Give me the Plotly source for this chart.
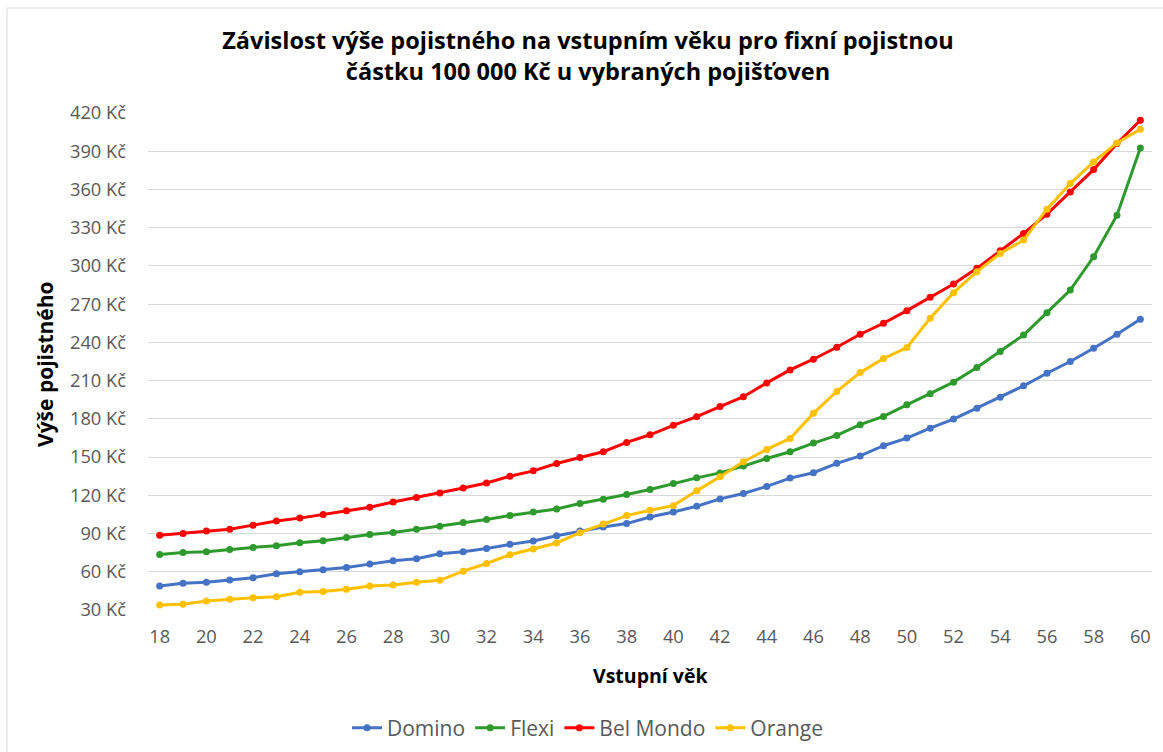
import plotly.graph_objects as go

ages = list(range(18, 61))

domino = [48.8, 50.9, 51.7, 53.5, 55.3, 58.4, 60, 61.6, 63.4, 66, 68.6, 70.2, 74.1, 75.7, 78.3,
          81.5, 84.1, 88.3, 92, 95.1, 97.8, 103, 106.9, 111.4, 117.2, 121.4, 127, 133.5, 137.7,
          145.1, 150.9, 158.9, 164.9, 172.7, 179.8, 188.4, 197, 205.9, 215.8, 225, 235.4, 246.4, 258.1]
flexi = [73.6, 75.2, 75.7, 77.5, 79.1, 80.4, 82.7, 84.3, 86.9, 89.3, 90.9, 93.4, 95.8, 98.7, 101,
         104.1, 106.9, 109.3, 113.5, 116.9, 120.6, 124.5, 129.2, 133.7, 137.6, 142.9, 148.9, 154.2, 161,
         167, 175.4, 181.9, 191, 199.6, 208.8, 220.3, 232.8, 245.8, 263.3, 281.1, 307.2, 339.8, 392.6]
bel_mondo = [88.7, 90.1, 91.9, 93.4, 96.6, 99.9, 102.1, 105, 107.8, 110.7, 114.8, 118.3, 121.9, 125.8, 129.7,
             135, 139.2, 145, 149.7, 154.2, 161.5, 167.5, 174.9, 181.7, 189.6, 197.4, 208.2, 218.4, 226.8,
             236.2, 246.4, 255, 264.9, 275.4, 285.8, 298.1, 311.9, 325.5, 340.6, 358.1, 375.6, 396, 414.3]
orange = [33.9, 34.5, 37, 38.4, 39.6, 40.4, 43.9, 44.6, 46.2, 48.8, 49.6, 51.7, 53.3, 60.5, 66.5,
          73.4, 77.8, 82.6, 90.7, 97.5, 104.1, 108.3, 111.9, 123.5, 134.5, 146.3, 156, 164.6, 184.3,
          201.5, 216.3, 227.3, 236, 258.9, 279, 295.5, 309.8, 320.3, 344.5, 364.6, 381.6, 396.5, 407.2]

series = [
    ("Domino", domino, "#4472C4"),
    ("Flexi", flexi, "#2E9A2E"),
    ("Bel Mondo", bel_mondo, "#FF0000"),
    ("Orange", orange, "#FFC000"),
]

y_ticks = list(range(30, 421, 30))
y_ticktext = [f"{v} Kč" for v in y_ticks]
x_ticks = list(range(18, 61, 2))

FONT = "Open Sans"

fig = go.Figure()
for name, vals, color in series:
    fig.add_trace(go.Scatter(
        x=ages, y=vals, name=name, mode="lines+markers",
        line=dict(color=color, width=3),
        marker=dict(color=color, size=7),
    ))

fig.update_layout(
    width=1163, height=752,
    margin=dict(l=148, r=11, t=113, b=142),
    paper_bgcolor="white", plot_bgcolor="white",
    font=dict(family=FONT, color="#595959", size=18),
    title=dict(
        text="<b>Závislost výše pojistného na vstupním věku pro fixní pojistnou<br>částku 100 000 Kč u vybraných pojišťoven</b>",
        x=588 / 1163, xref="container", xanchor="center",
        y=1 - 49 / 752, yref="container", yanchor="middle",
        font=dict(family=FONT, size=23.5, color="#000000"),
    ),
    xaxis=dict(
        range=[17.5, 60.5], tickvals=x_ticks, showgrid=False, zeroline=False,
        showline=False, ticks="", ticklabelstandoff=14,
        tickfont=dict(size=18.3, color="#595959"),
    ),
    yaxis=dict(
        range=[30, 420], tickvals=y_ticks, ticktext=y_ticktext,
        showgrid=True, gridcolor="#D9D9D9", gridwidth=1, zeroline=False,
        showline=False, ticks="", ticklabelstandoff=21,
        tickfont=dict(size=18.3, color="#595959"),
    ),
    legend=dict(
        orientation="h", xref="container", x=588 / 1163, xanchor="center",
        yref="container", y=1 - 728 / 752, yanchor="middle",
        font=dict(family=FONT, size=21, color="#595959"),
        itemwidth=30, tracegroupgap=0,
    ),
    annotations=[
        dict(text="<b>Vstupní věk</b>", xref="paper", yref="paper",
             x=(650 - 148) / 1004, y=(610 - 675) / 497, showarrow=False,
             xanchor="center", yanchor="middle",
             font=dict(family=FONT, size=19.5, color="#000000")),
        dict(text="<b>Výše pojistného</b>", xref="paper", yref="paper",
             x=(45 - 148) / 1004, y=(610 - 364) / 497, showarrow=False, textangle=-90,
             xanchor="center", yanchor="middle",
             font=dict(family=FONT, size=21, color="#000000")),
    ],
    shapes=[
        dict(type="line", xref="paper", yref="paper",
             x0=(7 - 148) / 1004, x1=1.05, y0=(610 - 8) / 497, y1=(610 - 8) / 497,
             line=dict(color="#D9D9D9", width=1)),
        dict(type="line", xref="paper", yref="paper",
             x0=(7 - 148) / 1004, x1=(7 - 148) / 1004, y0=(610 - 8) / 497, y1=-0.3,
             line=dict(color="#D9D9D9", width=1)),
    ],
)

fig.write_html("out.html", config={"displayModeBar": False},
               post_script="document.body.style.margin='0';document.body.style.overflow='hidden';")
